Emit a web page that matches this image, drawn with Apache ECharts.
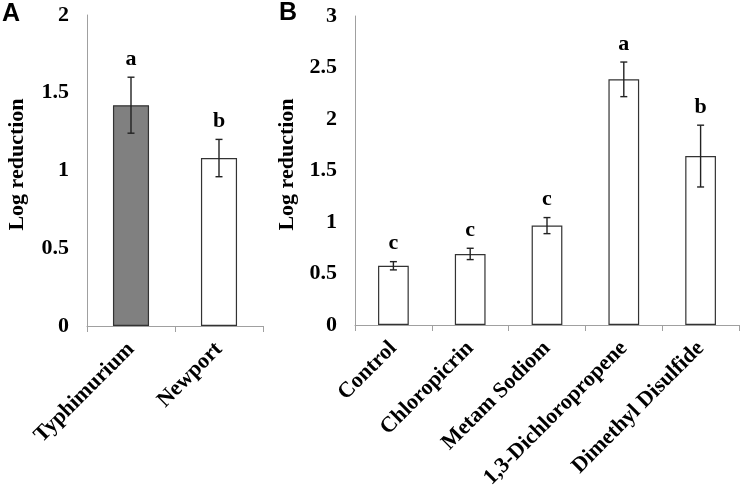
<!DOCTYPE html>
<html><head><meta charset="utf-8">
<script src="https://cdn.jsdelivr.net/npm/echarts@6/dist/echarts.min.js"></script>
<style>html,body{margin:0;padding:0;background:#fff}#c{width:742px;height:485px}</style>
</head><body><div id="c"></div>
<script>
// Panel A
var catsA = ['Typhimurium', 'Newport'];
var valsA = [1.42, 1.08];
var errA = [0.18, 0.12];
var lettersA = ['a', 'b'];
var ticksA = {min: 0, max: 2, interval: 0.5};
// Panel B
var catsB = ['Control', 'Chloropicrin', 'Metam Sodiom', '1,3-Dichloropropene', 'Dimethyl Disulfide'];
var valsB = [0.575, 0.69, 0.965, 2.385, 1.64];
var errB = [0.04, 0.055, 0.078, 0.168, 0.30];
var lettersB = ['c', 'c', 'c', 'a', 'b'];
var ticksB = {min: 0, max: 3, interval: 0.5};

var serif = '"Liberation Serif", "Times New Roman", serif';
var axisColor = '#a0a0a0';
var fs = 22;

function errSeries(xi, yi, vals, errs, letters) {
  return {
    type: 'custom', xAxisIndex: xi, yAxisIndex: yi, z: 10,
    data: vals.map(function (v, i) { return [i, v, errs[i]]; }),
    renderItem: function (params, api) {
      var i = api.value(0), v = api.value(1), e = api.value(2);
      var top = api.coord([i, v + e]);
      var bot = api.coord([i, v - e]);
      var x = top[0], cap = 3.5;
      var st = {stroke: '#222', lineWidth: 1.4};
      return {
        type: 'group',
        children: [
          {type: 'line', shape: {x1: x, y1: top[1], x2: x, y2: bot[1]}, style: st},
          {type: 'line', shape: {x1: x - cap, y1: top[1], x2: x + cap, y2: top[1]}, style: st},
          {type: 'line', shape: {x1: x - cap, y1: bot[1], x2: x + cap, y2: bot[1]}, style: st},
          {type: 'text', style: {text: letters[params.dataIndex], x: x, y: top[1] - 7,
            align: 'center', verticalAlign: 'bottom', fill: '#000',
            font: 'bold ' + fs + 'px ' + serif}}
        ]
      };
    }
  };
}

function xAx(gi, cats) {
  return {
    type: 'category', gridIndex: gi, data: cats, boundaryGap: true,
    axisLine: {show: true, lineStyle: {color: axisColor, width: 1}},
    axisTick: {show: true, length: 6, lineStyle: {color: axisColor}},
    axisLabel: {interval: 0, rotate: 45, margin: 20, color: '#000',
      fontFamily: serif, fontWeight: 'bold', fontSize: fs}
  };
}
function yAx(gi, t, gap) {
  return {
    type: 'value', gridIndex: gi, min: t.min, max: t.max, interval: t.interval,
    name: 'Log reduction', nameLocation: 'middle', nameRotate: 90, nameGap: gap,
    nameTextStyle: {color: '#000', fontFamily: serif, fontWeight: 'bold', fontSize: fs,
      padding: [0, 0, 0, 12]},
    axisLine: {show: true, lineStyle: {color: axisColor, width: 1}},
    axisTick: {show: false},
    splitLine: {show: false},
    axisLabel: {margin: 18, color: '#000', fontFamily: serif, fontWeight: 'bold', fontSize: fs}
  };
}

var chart = echarts.init(document.getElementById('c'), null, {renderer: 'canvas'});
chart.setOption({
  animation: false,
  backgroundColor: '#fff',
  grid: [
    {left: 87, top: 15, width: 176, height: 311, containLabel: false, outerBoundsMode: 'none'},
    {left: 355, top: 16, width: 384, height: 309, containLabel: false, outerBoundsMode: 'none'}
  ],
  xAxis: [xAx(0, catsA), xAx(1, catsB)],
  yAxis: [yAx(0, ticksA, 59), yAx(1, ticksB, 55)],
  graphic: [
    {type: 'text', left: 2, top: 2, style: {text: 'A', font: 'bold 25px "Liberation Sans", Arial, sans-serif', fill: '#000'}},
    {type: 'text', left: 279, top: 1, style: {text: 'B', font: 'bold 25px "Liberation Sans", Arial, sans-serif', fill: '#000'}}
  ],
  series: [
    {type: 'bar', xAxisIndex: 0, yAxisIndex: 0, barWidth: '41%',
     data: valsA.map(function (v, i) {
       return {value: v, itemStyle: {color: i === 0 ? '#808080' : '#ffffff'}};
     }),
     itemStyle: {borderColor: '#333', borderWidth: 1.2}},
    errSeries(0, 0, valsA, errA, lettersA),
    {type: 'bar', xAxisIndex: 1, yAxisIndex: 1, barWidth: '40%',
     data: valsB,
     itemStyle: {color: '#ffffff', borderColor: '#333', borderWidth: 1.2}},
    errSeries(1, 1, valsB, errB, lettersB)
  ]
});
</script>
</body></html>
